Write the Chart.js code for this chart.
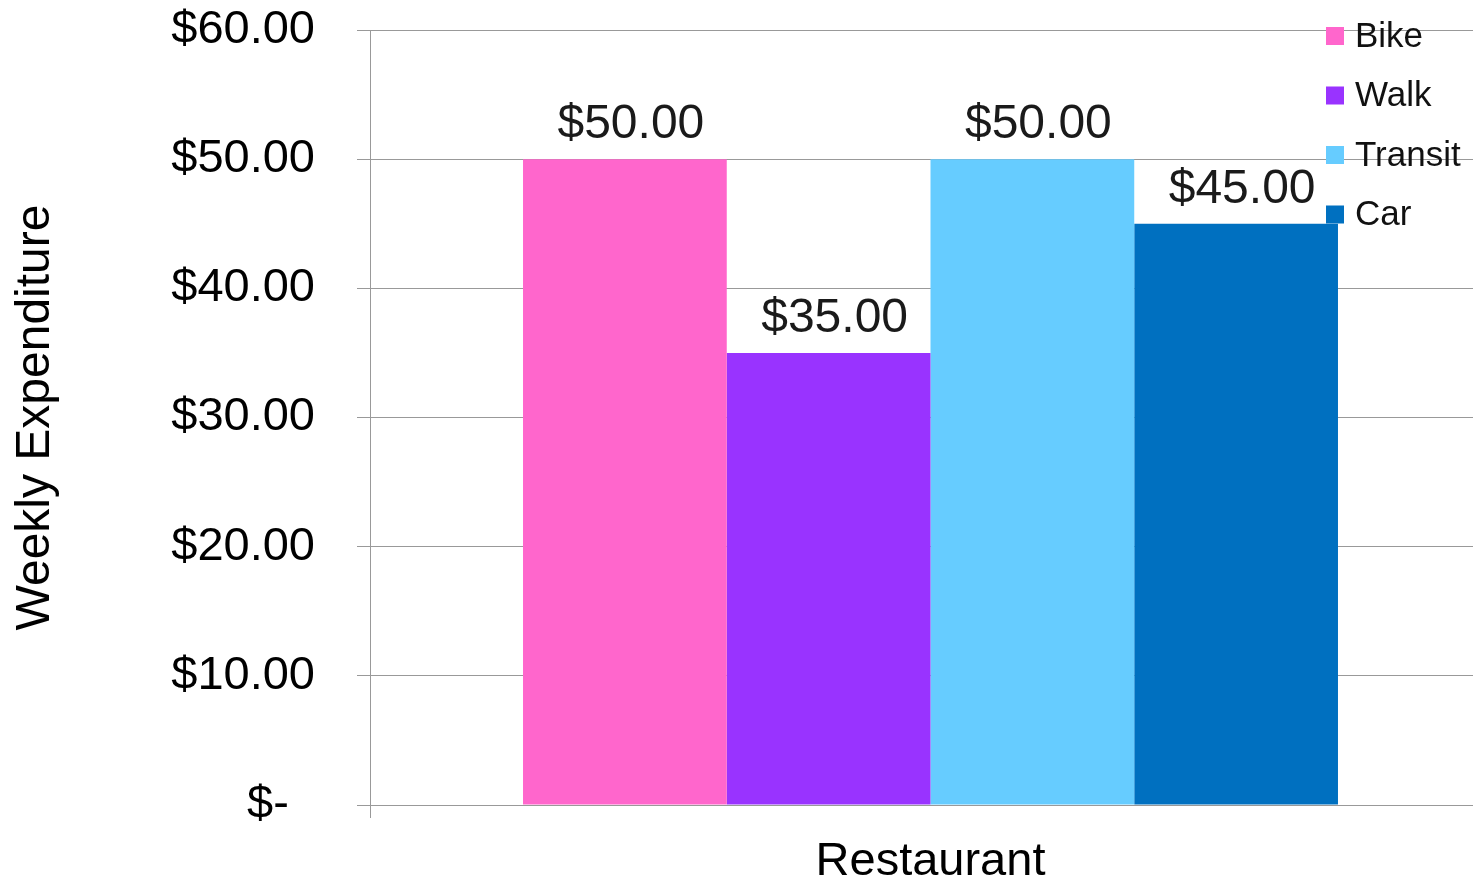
<!DOCTYPE html>
<html>
<head>
<meta charset="utf-8">
<script src="https://cdn.jsdelivr.net/npm/chart.js@4/dist/chart.umd.min.js"></script>
<style>
  html, body { margin: 0; padding: 0; background: #fff; overflow: hidden; }
  canvas { display: block; }
</style>
</head>
<body>
<canvas id="chart" width="1500" height="884"></canvas>
<script>
const categories = ['Restaurant'];
const seriesNames = ['Bike', 'Walk', 'Transit', 'Car'];
const bikeValues = [50];
const walkValues = [35];
const transitValues = [50];
const carValues = [45];
const yTicks = [0, 10, 20, 30, 40, 50, 60];

const colors = ['#ff66cc', '#9933ff', '#66ccff', '#0070c0'];
const FONT = '"Liberation Sans", Arial, Helvetica, sans-serif';

const money = v => v === 0 ? '$-  ' : '$' + v.toFixed(2);

// value labels above each bar
const barLabels = {
  id: 'barLabels',
  afterDatasetsDraw(chart) {
    const ctx = chart.ctx;
    ctx.save();
    ctx.font = '48px ' + FONT;
    ctx.fillStyle = '#1a1a1a';
    ctx.textAlign = 'center';
    ctx.textBaseline = 'alphabetic';
    chart.data.datasets.forEach((ds, i) => {
      chart.getDatasetMeta(i).data.forEach((bar, j) => {
        ctx.fillText(money(ds.data[j]), bar.x + 6, bar.y - 21);
      });
    });
    ctx.restore();
  }
};

// legend floating over the top right of the plot
const cornerLegend = {
  id: 'cornerLegend',
  afterDraw(chart) {
    const ctx = chart.ctx;
    ctx.save();
    ctx.font = '35px ' + FONT;
    ctx.textBaseline = 'middle';
    ctx.textAlign = 'left';
    chart.data.datasets.forEach((ds, i) => {
      const cy = 36 + i * 59.5;
      ctx.fillStyle = ds.backgroundColor;
      ctx.fillRect(1326, cy - 9, 18, 18);
      ctx.fillStyle = '#111';
      ctx.fillText(ds.label, 1355, cy + 1);
    });
    ctx.restore();
  }
};

const valueSets = [bikeValues, walkValues, transitValues, carValues];

new Chart(document.getElementById('chart'), {
  type: 'bar',
  data: {
    labels: categories,
    datasets: seriesNames.map((name, i) => ({
      label: name,
      data: valueSets[i],
      backgroundColor: colors[i],
      borderWidth: 0,
      barPercentage: 1,
      categoryPercentage: 0.727
    }))
  },
  options: {
    responsive: false,
    animation: false,
    devicePixelRatio: 1,
    layout: { padding: { top: 0, right: 9, left: 0, bottom: 0 } },
    plugins: {
      legend: { display: false },
      tooltip: { enabled: false }
    },
    scales: {
      x: {
        grid: { color: '#999', tickLength: 13, drawOnChartArea: true },
        border: { display: false },
        ticks: { color: '#000', font: { family: FONT, size: 47 }, padding: 16 },
        afterFit: scale => { scale.height = 79; }
      },
      y: {
        min: 0,
        max: 60,
        afterBuildTicks: scale => { scale.ticks = yTicks.map(v => ({ value: v })); },
        grid: { color: '#999', tickLength: 13 },
        border: { color: '#999' },
        ticks: {
          color: '#000',
          font: { family: FONT, size: 47 },
          padding: 42,
          callback: v => money(v)
        },
        title: {
          display: true,
          text: 'Weekly Expenditure',
          color: '#000',
          font: { family: FONT, size: 48 },
          padding: { top: 7, bottom: 0 }
        },
        afterFit: scale => {
          scale.width = 370;
          scale.paddingTop = 30;
          scale.paddingBottom = 0;
        }
      }
    }
  },
  plugins: [barLabels, cornerLegend]
});
</script>
</body>
</html>
